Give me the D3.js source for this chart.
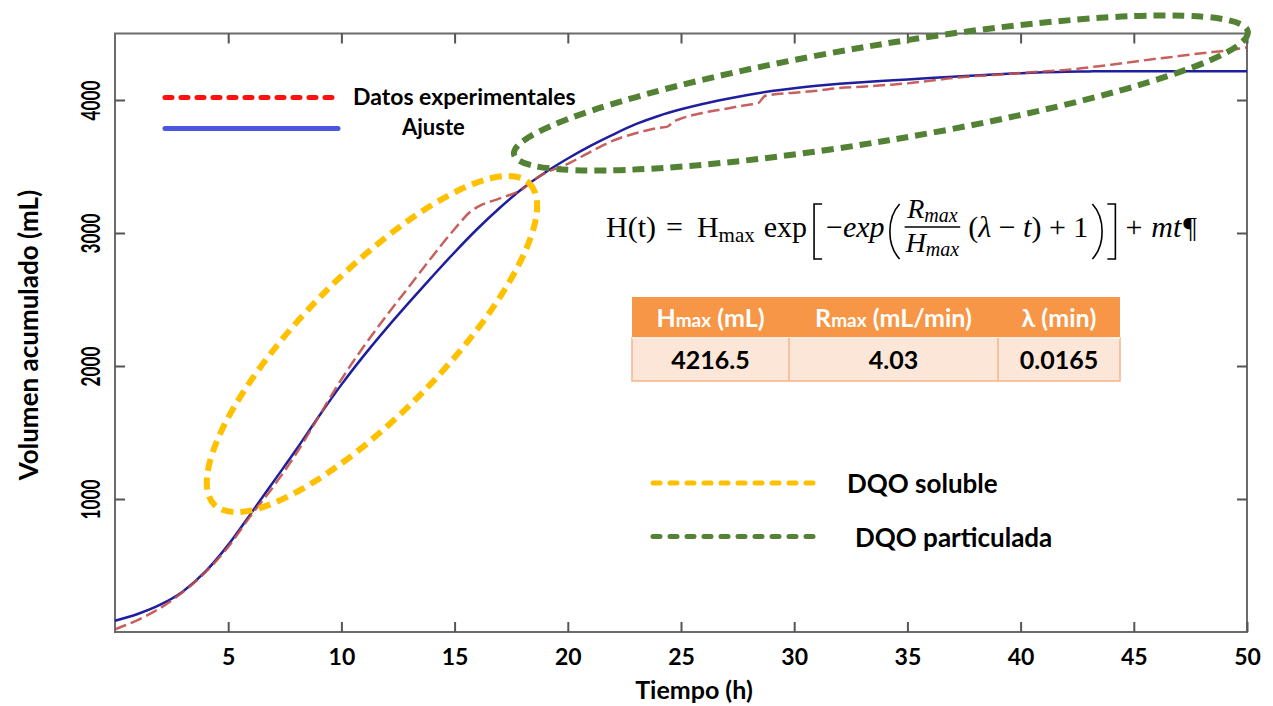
<!DOCTYPE html>
<html>
<head>
<meta charset="utf-8">
<script src="https://cdn.jsdelivr.net/npm/d3@7"></script>
<style>
  body { margin: 0; background: #fff; }
  svg { display: block; }
</style>
</head>
<body>
<svg id="chart" width="1273" height="706"></svg>
<script>
// curva de ajuste (Gompertz)
const tiempoAjuste = [0,1,2,3,4,5,6,7,8,9,10,11,12,13,14,15,16,17,18,19,20,21,22,23,24,25,26,27,28,29,30,31,32,33,34,35,36,37,38,39,40,41,42,43,44,46,48,50];
const volumenAjuste = [85,135,205,305,455,655,890,1130,1370,1620,1860,2080,2285,2480,2670,2855,3030,3190,3335,3455,3560,3655,3740,3818,3880,3930,3972,4008,4040,4067,4089,4107,4122,4134,4144,4154,4165,4175,4185,4194,4202,4208,4212,4215,4217,4217,4217,4217];

// datos experimentales
const tiempoDatos = [0,1,2,3,4,5,6,7,8,9,10,11,12,13,14,15,15.7,16,17,18,18.6,19,20,21,22,23,24,24.4,24.7,25,26,27,28,28.4,28.7,29,30,31,32,33,34,35,36,37,38,39,40,41,42,43,44,45,46,47,48,49,50];
const volumenDatos = [20,90,180,300,450,640,875,1095,1340,1620,1900,2150,2380,2600,2820,3030,3160,3195,3260,3330,3410,3450,3520,3610,3695,3750,3790,3800,3840,3860,3905,3935,3965,3975,4030,4040,4055,4070,4090,4100,4112,4125,4145,4165,4180,4190,4203,4215,4225,4245,4265,4288,4310,4330,4352,4370,4395];

const xTicks = [5,10,15,20,25,30,35,40,45,50];
const yTicks = [1000,2000,3000,4000];

const leyendaCurvas = ["Datos experimentales", "Ajuste"];
const leyendaZonas = ["DQO soluble", "DQO particulada"];

const tablaTitulo = ["H", "R", "λ (min)"];
const tablaSub = ["max", "max", ""];
const tablaUnidad = [" (mL)", " (mL/min)", ""];
const tablaValores = ["4216.5", "4.03", "0.0165"];

// zonas marcadas: centro (t, volumen)
const zonaSoluble = [11.35, 2165];
const zonaParticulada = [33.83, 4053];

const svg = d3.select("#chart");
const sans = "Lato, 'Open Sans', sans-serif";
const serif = "'Liberation Serif', 'DejaVu Serif', serif";

const mLeft = 115, mRight = 1247, mTop = 33.5, mBottom = 632;

const x = d3.scaleLinear().domain([0, 50]).range([mLeft, mRight]);
const y = d3.scaleLinear().domain([0, 4500]).range([mBottom, mTop]);

// caja de ejes
svg.append("rect")
  .attr("x", mLeft).attr("y", mTop)
  .attr("width", mRight - mLeft).attr("height", mBottom - mTop)
  .attr("fill", "none").attr("stroke", "#6b6b6b").attr("stroke-width", 2);

const xAxis = svg.append("g")
  .attr("transform", "translate(0," + mBottom + ")")
  .call(d3.axisBottom(x).tickValues(xTicks).tickSizeInner(-10).tickSizeOuter(0).tickPadding(17));
xAxis.select(".domain").remove();
xAxis.selectAll("line").attr("stroke", "#555").attr("stroke-width", 2);
xAxis.selectAll("text")
  .style("font-family", sans).style("font-size", "23px").style("font-weight", "bold")
  .attr("fill", "#000");

svg.append("g")
  .attr("transform", "translate(0," + mTop + ")")
  .call(d3.axisTop(x).tickValues(xTicks).tickSizeInner(-10).tickSizeOuter(0).tickFormat(""))
  .call(g => g.select(".domain").remove())
  .selectAll("line").attr("stroke", "#555").attr("stroke-width", 2);

const yAxis = svg.append("g")
  .attr("transform", "translate(" + mLeft + ",0)")
  .call(d3.axisLeft(y).tickValues(yTicks).tickSizeInner(-10).tickSizeOuter(0).tickFormat(d3.format("d")));
yAxis.select(".domain").remove();
yAxis.selectAll("line").attr("stroke", "#555").attr("stroke-width", 2);
yAxis.selectAll("text")
  .attr("x", 0).attr("y", -15).attr("dy", 0)
  .attr("transform", "rotate(-90)")
  .attr("text-anchor", "middle")
  .attr("textLength", 40).attr("lengthAdjust", "spacingAndGlyphs")
  .style("font-family", sans).style("font-size", "27px").style("font-weight", "bold")
  .attr("fill", "#000");

svg.append("g")
  .attr("transform", "translate(" + mRight + ",0)")
  .call(d3.axisRight(y).tickValues(yTicks).tickSizeInner(-10).tickSizeOuter(0).tickFormat(""))
  .call(g => g.select(".domain").remove())
  .selectAll("line").attr("stroke", "#555").attr("stroke-width", 2);

// titulos de ejes
svg.append("text")
  .attr("x", 694).attr("y", 699)
  .attr("text-anchor", "middle")
  .style("font-family", sans).style("font-size", "25px").style("font-weight", "bold")
  .text("Tiempo (h)");

svg.append("text")
  .attr("transform", "translate(38,335) rotate(-90)")
  .attr("text-anchor", "middle")
  .style("font-family", sans).style("font-size", "26px").style("font-weight", "bold")
  .text("Volumen acumulado (mL)");

// curvas
const linea = (ts, vs) => d3.line()
  .x((d, i) => x(ts[i]))
  .y(d => y(d))
  .curve(d3.curveMonotoneX)(vs);

svg.append("path")
  .attr("d", linea(tiempoAjuste, volumenAjuste))
  .attr("fill", "none").attr("stroke", "#1f1f9e").attr("stroke-width", 2.5);

svg.append("path")
  .attr("d", linea(tiempoDatos, volumenDatos))
  .attr("fill", "none").attr("stroke", "#c0504d").attr("stroke-opacity", 0.9)
  .attr("stroke-width", 2.5).attr("stroke-dasharray", "12,5");

// elipses
function elipse(c, rx, ry, ang, color) {
  svg.append("ellipse")
    .attr("transform", "translate(" + x(c[0]) + "," + y(c[1]) + ") rotate(" + ang + ")")
    .attr("rx", rx).attr("ry", ry)
    .attr("fill", "none").attr("stroke", color)
    .attr("stroke-width", 6).attr("stroke-dasharray", "12,7");
}
elipse(zonaSoluble, 225, 70, -45.6, "#ffc000");
elipse(zonaParticulada, 372, 48, -9.5, "#548235");

// leyenda de curvas
svg.append("line")
  .attr("x1", 165).attr("x2", 336).attr("y1", 97.5).attr("y2", 97.5)
  .attr("stroke", "#ff1010").attr("stroke-width", 5)
  .attr("stroke-linecap", "round").attr("stroke-dasharray", "7,9");
svg.append("line")
  .attr("x1", 165).attr("x2", 338).attr("y1", 128.5).attr("y2", 128.5)
  .attr("stroke", "#4a55e0").attr("stroke-width", 5).attr("stroke-linecap", "round");
svg.append("text").attr("x", 353).attr("y", 105)
  .style("font-family", sans).style("font-size", "23px").style("font-weight", "bold")
  .text(leyendaCurvas[0]);
svg.append("text").attr("x", 402).attr("y", 135)
  .style("font-family", sans).style("font-size", "22px").style("font-weight", "bold")
  .text(leyendaCurvas[1]);

// leyenda de zonas
[["#ffc000", 483], ["#548235", 536.5]].forEach((d, i) => {
  svg.append("line")
    .attr("x1", 653).attr("x2", 822).attr("y1", d[1]).attr("y2", d[1])
    .attr("stroke", d[0]).attr("stroke-width", 5)
    .attr("stroke-linecap", "round").attr("stroke-dasharray", "7,10");
  svg.append("text").attr("x", i === 0 ? 847 : 855).attr("y", d[1] + 10)
    .style("font-family", sans).style("font-size", "26px").style("font-weight", "bold")
    .text(leyendaZonas[i]);
});

// ecuacion: piezas colocadas una tras otra
const eq = svg.append("g").style("font-family", serif);
const eqY = 237, dTop = 204, dBot = 259;
let cx = 606;
function pieza(txt, size, opts) {
  opts = opts || {};
  const t = eq.append("text")
    .attr("x", cx).attr("y", eqY + (opts.dy || 0))
    .style("font-size", size + "px")
    .style("font-style", opts.italic ? "italic" : "normal")
    .text(txt);
  cx += t.node().getComputedTextLength() + (opts.gap || 0);
  return t;
}
function delim(tipo, gap) {
  const w = tipo === "[" || tipo === "]" ? 8 : 11;
  let d;
  if (tipo === "[") d = "M" + (cx + w) + "," + dTop + "H" + cx + "V" + dBot + "H" + (cx + w);
  if (tipo === "]") d = "M" + cx + "," + dTop + "H" + (cx + w) + "V" + dBot + "H" + cx;
  if (tipo === "(") d = "M" + (cx + w) + "," + dTop + "C" + (cx - 2) + "," + (dTop + 14) + " " + (cx - 2) + "," + (dBot - 14) + " " + (cx + w) + "," + dBot;
  if (tipo === ")") d = "M" + cx + "," + dTop + "C" + (cx + w + 2) + "," + (dTop + 14) + " " + (cx + w + 2) + "," + (dBot - 14) + " " + cx + "," + dBot;
  eq.append("path").attr("d", d).attr("fill", "none").attr("stroke", "#000").attr("stroke-width", 1.6);
  cx += w + gap;
}
pieza("H(t)", 30, { gap: 10 });
pieza("=", 30, { gap: 14 });
pieza("H", 30);
pieza("max", 21, { dy: 5, gap: 9 });
pieza("exp", 30, { gap: 7 });
delim("[", 4);
pieza("−", 30);
pieza("exp", 30, { italic: true, gap: 4 });
delim("(", 6);
// fraccion
const fx = cx;
const num = eq.append("text").attr("x", fx).attr("y", 218)
  .style("font-size", "28px").style("font-style", "italic");
num.append("tspan").text("R");
num.append("tspan").style("font-size", "20px").attr("dy", 4).text("max");
const den = eq.append("text").attr("x", fx).attr("y", 252)
  .style("font-size", "28px").style("font-style", "italic");
den.append("tspan").text("H");
den.append("tspan").style("font-size", "20px").attr("dy", 4).text("max");
const fw = Math.max(num.node().getComputedTextLength(), den.node().getComputedTextLength());
num.attr("x", fx + (fw - num.node().getComputedTextLength()) / 2);
eq.append("line").attr("x1", fx - 1).attr("x2", fx + fw + 1).attr("y1", 227).attr("y2", 227)
  .attr("stroke", "#000").attr("stroke-width", 1.3);
cx = fx + fw + 9;
const par = eq.append("text").attr("x", cx).attr("y", eqY)
  .style("font-size", "30px");
par.append("tspan").text("(");
par.append("tspan").style("font-style", "italic").text("λ");
par.append("tspan").text(" − ");
par.append("tspan").style("font-style", "italic").text("t");
par.append("tspan").text(") + 1");
cx += par.node().getComputedTextLength() + 4;
delim(")", 4);
delim("]", 10);
pieza("+", 30, { gap: 9 });
pieza("mt", 30, { italic: true, gap: 2 });
pieza("¶", 30);

// tabla de parametros
const colX = [632, 789, 998, 1120];
const filaY = [297, 338, 381];
const tabla = svg.append("g");
tabla.append("rect").attr("x", colX[0]).attr("y", filaY[0])
  .attr("width", colX[3] - colX[0]).attr("height", filaY[1] - filaY[0])
  .attr("fill", "#f79646");
tabla.append("rect").attr("x", colX[0]).attr("y", filaY[1])
  .attr("width", colX[3] - colX[0]).attr("height", filaY[2] - filaY[1])
  .attr("fill", "#fce6d8").attr("stroke", "#f6b487").attr("stroke-width", 1.5);
tabla.append("line").attr("x1", colX[0]).attr("x2", colX[3]).attr("y1", filaY[1]).attr("y2", filaY[1])
  .attr("stroke", "#fff").attr("stroke-width", 1.5);
[1, 2].forEach(i => {
  tabla.append("line").attr("x1", colX[i]).attr("x2", colX[i]).attr("y1", filaY[1]).attr("y2", filaY[2])
    .attr("stroke", "#f6b487").attr("stroke-width", 1.5);
});
tablaTitulo.forEach((t, i) => {
  const mid = (colX[i] + colX[i + 1]) / 2;
  const h = tabla.append("text").attr("x", mid).attr("y", 327)
    .attr("text-anchor", "middle").attr("fill", "#fff")
    .style("font-family", sans).style("font-size", "25px").style("font-weight", "bold");
  h.append("tspan").text(t);
  if (tablaSub[i]) h.append("tspan").style("font-size", "19px").text(tablaSub[i]);
  if (tablaUnidad[i]) h.append("tspan").text(tablaUnidad[i]);
  tabla.append("text").attr("x", mid).attr("y", 369)
    .attr("text-anchor", "middle").attr("fill", "#000")
    .style("font-family", sans).style("font-size", "25px").style("font-weight", "bold")
    .text(tablaValores[i]);
});
</script>
</body>
</html>
